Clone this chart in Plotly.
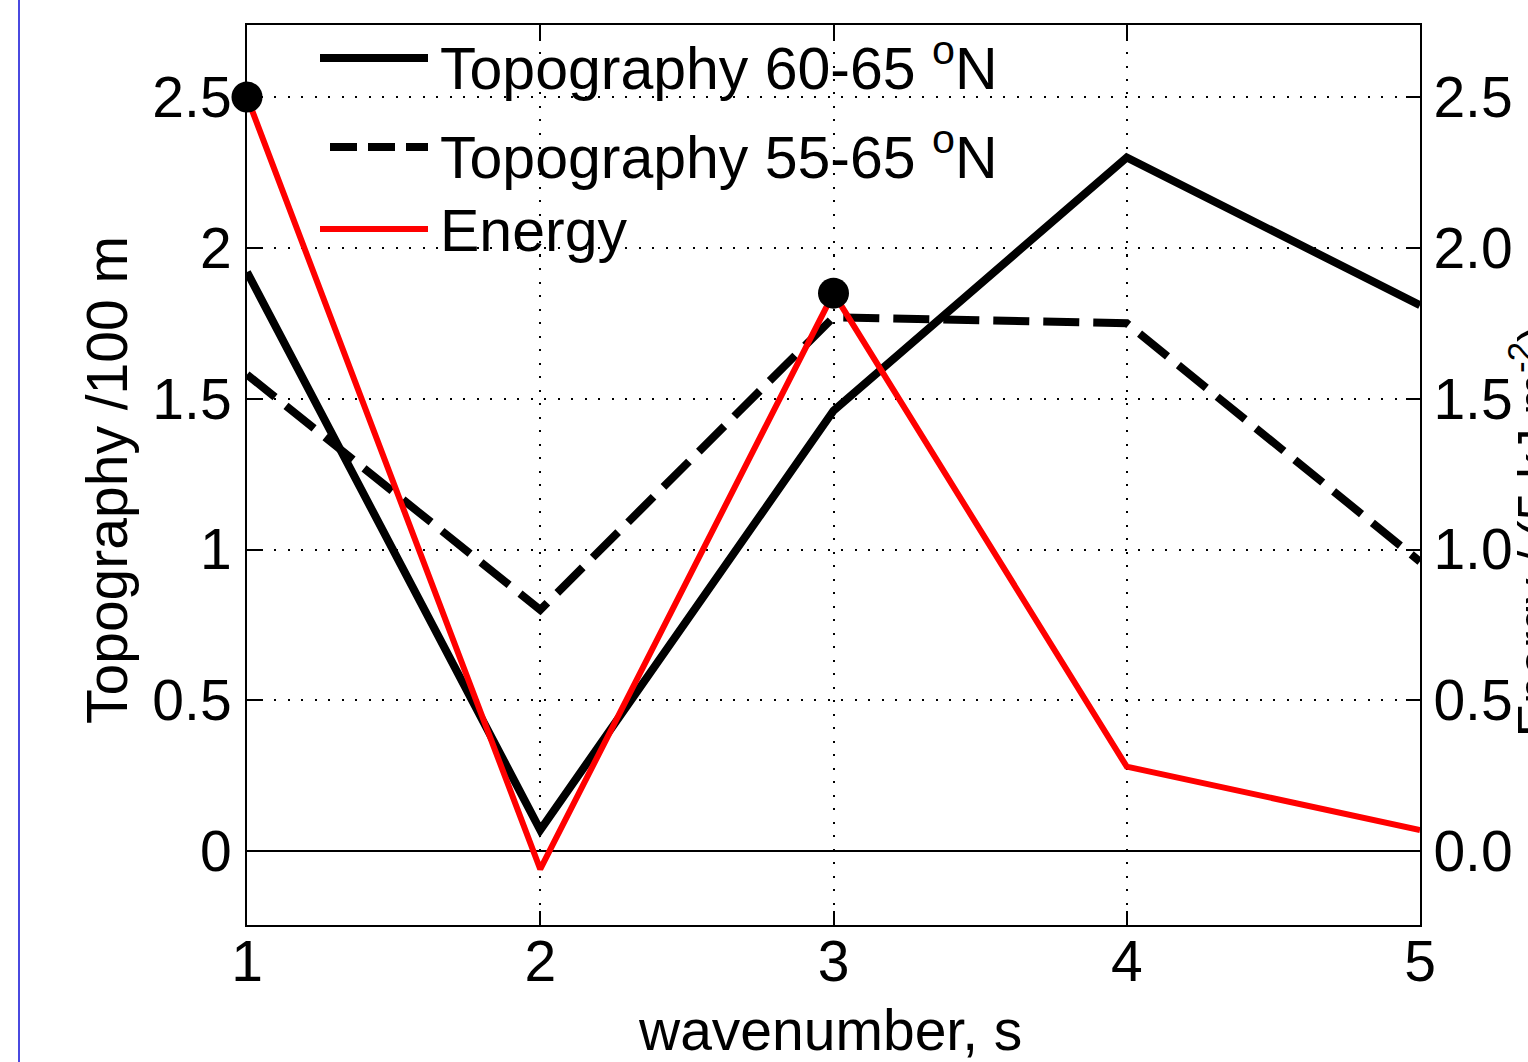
import plotly.graph_objects as go

# Wavenumber spectrum: topography amplitude (left axis) and energy (right axis)
wavenumber = [1, 2, 3, 4, 5]
topo_60_65 = [1.92, 0.07, 1.46, 2.30, 1.81]
topo_55_65 = [1.58, 0.80, 1.77, 1.75, 0.96]
energy = [2.50, -0.06, 1.85, 0.28, 0.07]
peak_wavenumber = [1, 3]
peak_energy = [2.50, 1.85]

left_ticks = [0, 0.5, 1, 1.5, 2, 2.5]
left_ticktext = ["0", "0.5", "1", "1.5", "2", "2.5"]
right_ticks = [0, 0.5, 1, 1.5, 2, 2.5]
right_ticktext = ["0.0", "0.5", "1.0", "1.5", "2.0", "2.5"]

legend_labels = ["Topography 60-65 <sup>o</sup>N",
                 "Topography 55-65 <sup>o</sup>N",
                 "Energy"]

FONT = "Liberation Sans, Arial, Helvetica, sans-serif"
W, H = 1528, 1062
L, R, T, B = 247, 1420, 25, 925
yr = [-0.245, 2.739]


def px_x(px):
    return (px - L) / (R - L)


def px_y(py):
    return (B - py) / (B - T)


DASH = "36px,14px"
LEGEND_DASH = "27px,11px"
GRID_DOT = "2px,11.5px"

fig = go.Figure()
fig.add_trace(go.Scatter(x=wavenumber, y=topo_60_65, mode="lines",
                         line=dict(color="black", width=8),
                         name=legend_labels[0], showlegend=False))
fig.add_trace(go.Scatter(x=wavenumber, y=topo_55_65, mode="lines",
                         line=dict(color="black", width=8, dash=DASH),
                         name=legend_labels[1], showlegend=False))
fig.add_trace(go.Scatter(x=wavenumber, y=energy, mode="lines", yaxis="y2",
                         line=dict(color="#ff0000", width=6),
                         name=legend_labels[2], showlegend=False))
fig.add_trace(go.Scatter(x=peak_wavenumber, y=peak_energy, mode="markers",
                         yaxis="y2", cliponaxis=False,
                         marker=dict(color="black", size=31, symbol="circle"),
                         showlegend=False))

axis_common = dict(
    showline=True, linecolor="black", linewidth=2,
    ticks="inside", ticklen=14, tickwidth=1.5, tickcolor="black",
    tickfont=dict(family=FONT, size=57, color="black"),
)

fig.update_layout(
    width=W, height=H,
    margin=dict(l=L, r=W - R, t=T, b=H - B, pad=0),
    paper_bgcolor="white", plot_bgcolor="white",
    font=dict(family=FONT, color="black"),
    xaxis=dict(range=[1, 5], tickvals=wavenumber,
               ticktext=[str(v) for v in wavenumber],
               mirror="ticks", showgrid=True, gridcolor="black",
               griddash=GRID_DOT, gridwidth=2, zeroline=False,
               ticklabelstandoff=-14, **axis_common),
    yaxis=dict(range=yr, tickvals=left_ticks, ticktext=left_ticktext,
               showgrid=True, gridcolor="black", griddash=GRID_DOT,
               gridwidth=2, zeroline=True, zerolinecolor="black",
               zerolinewidth=1.5, ticklabelstandoff=2, **axis_common),
    yaxis2=dict(range=yr, tickvals=right_ticks, ticktext=right_ticktext,
                overlaying="y", side="right", showgrid=False,
                zeroline=False, ticklabelstandoff=0, **axis_common),
    showlegend=False,
)

# Axis titles
fig.add_annotation(text="wavenumber, s", xref="paper", yref="paper",
                   x=px_x(830), y=px_y(1030), xanchor="center",
                   yanchor="middle", showarrow=False,
                   font=dict(family=FONT, size=57, color="black"))
fig.add_annotation(text="Topography /100 m", xref="paper", yref="paper",
                   x=px_x(107), y=px_y(480), xanchor="center",
                   yanchor="middle", textangle=-90, showarrow=False,
                   font=dict(family=FONT, size=57, color="black"))
fig.add_annotation(text="Energy / (5 kJ m<sup>-2</sup>)", xref="paper",
                   yref="paper", x=px_x(1532), y=px_y(531), xanchor="center",
                   yanchor="middle", textangle=-90, showarrow=False,
                   font=dict(family=FONT, size=50, color="black"))

# Legend drawn inside the upper-left corner of the axes
legend_rows = [
    dict(y=58, x0=320, dash=False, color="black", width=8),
    dict(y=147, x0=330, dash=True, color="black", width=8),
    dict(y=229, x0=320, dash=False, color="#ff0000", width=6),
]
text_rows = [64, 153, 231]
for row, ty, label in zip(legend_rows, text_rows, legend_labels):
    fig.add_shape(type="line", xref="paper", yref="paper",
                  x0=px_x(row["x0"]), x1=px_x(428),
                  y0=px_y(row["y"]), y1=px_y(row["y"]),
                  line=dict(color=row["color"], width=row["width"],
                            dash=LEGEND_DASH if row["dash"] else "solid"))
    fig.add_annotation(text=label, xref="paper", yref="paper",
                       x=px_x(438), y=px_y(ty), xanchor="left",
                       yanchor="middle", showarrow=False,
                       font=dict(family=FONT, size=59, color="black"))

# Thin blue rule at the left edge of the page
fig.add_shape(type="line", xref="paper", yref="paper",
              x0=px_x(19), x1=px_x(19), y0=px_y(0), y1=px_y(H),
              line=dict(color="#4a4ae0", width=2))

fig.write_html("out.html")
